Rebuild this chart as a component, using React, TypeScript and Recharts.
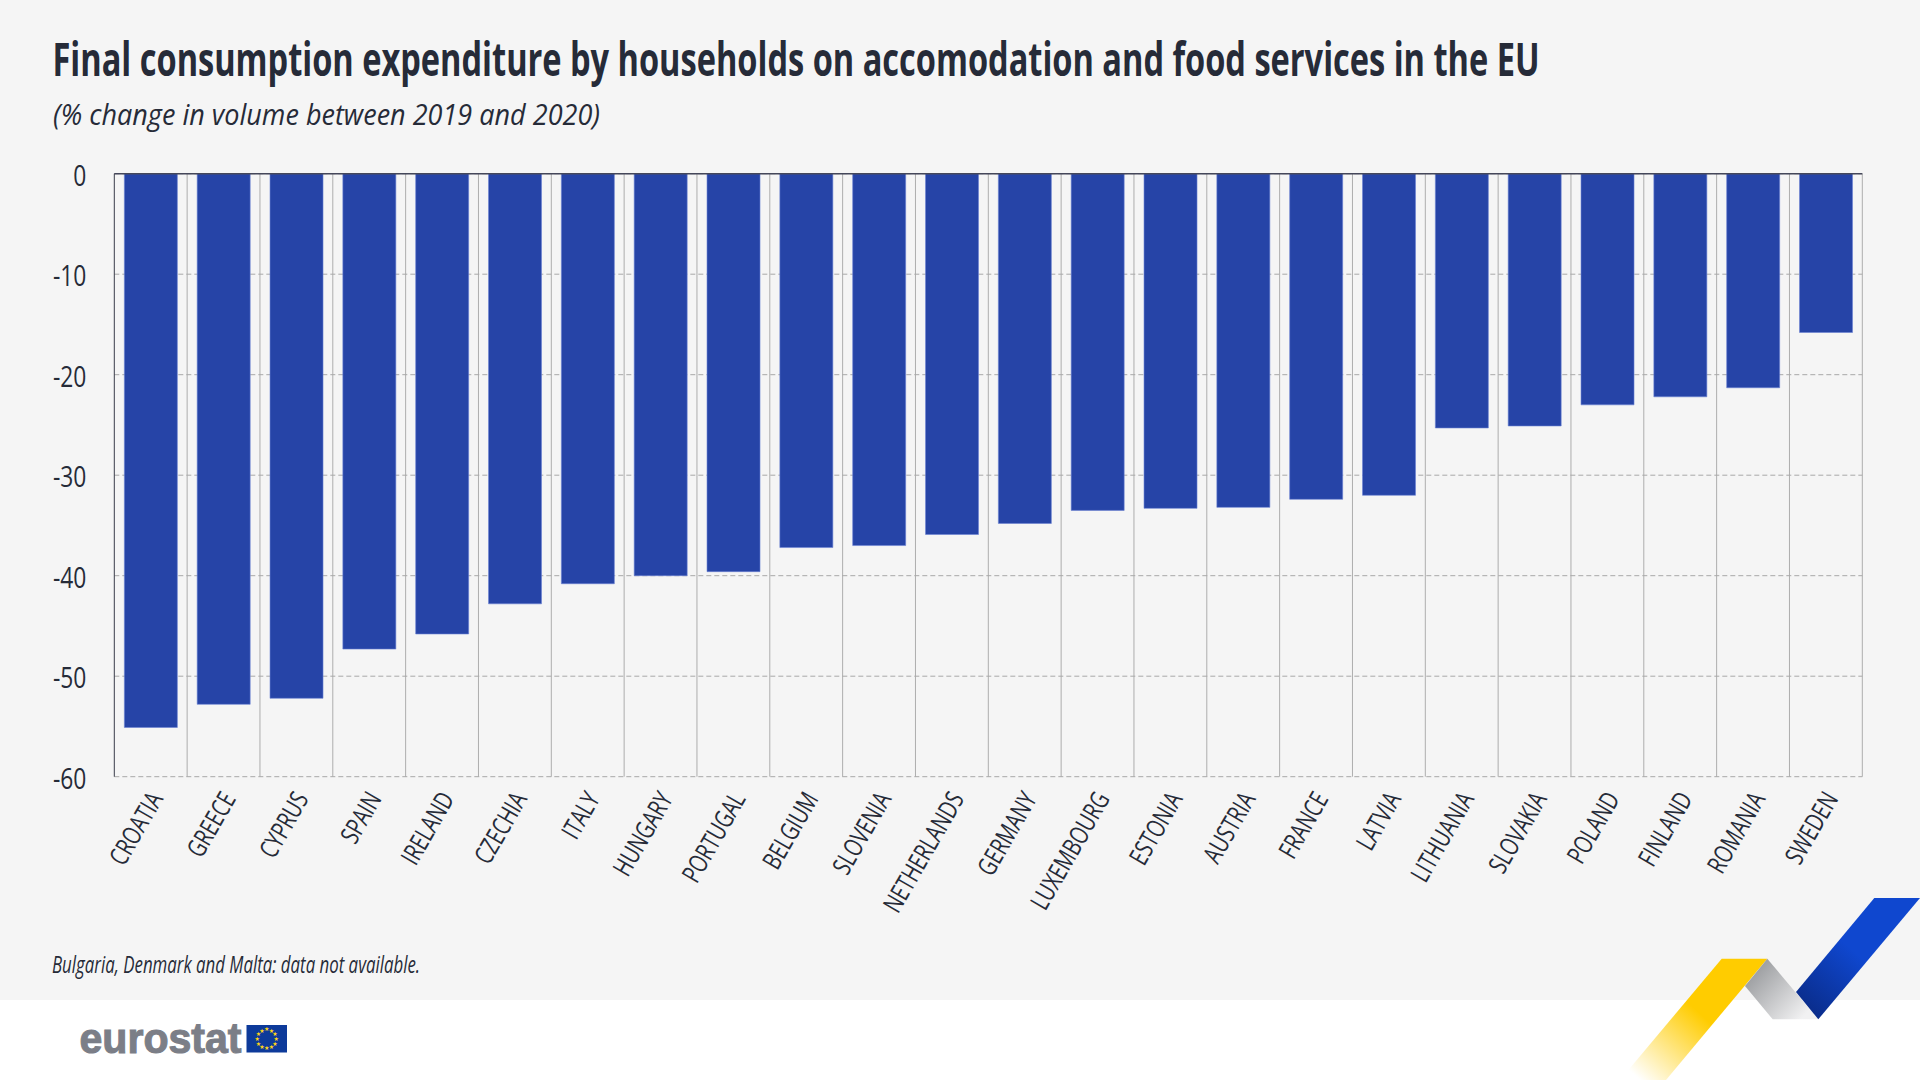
import React from 'react';
import { BarChart, Bar, XAxis, YAxis, CartesianGrid, ReferenceLine } from 'recharts';

const countries = ['CROATIA', 'GREECE', 'CYPRUS', 'SPAIN', 'IRELAND', 'CZECHIA', 'ITALY', 'HUNGARY', 'PORTUGAL', 'BELGIUM', 'SLOVENIA', 'NETHERLANDS', 'GERMANY', 'LUXEMBOURG', 'ESTONIA', 'AUSTRIA', 'FRANCE', 'LATVIA', 'LITHUANIA', 'SLOVAKIA', 'POLAND', 'FINLAND', 'ROMANIA', 'SWEDEN'];
const changes = [-55.1, -52.8, -52.2, -47.3, -45.8, -42.8, -40.8, -40.0, -39.6, -37.2, -37.0, -35.9, -34.8, -33.5, -33.3, -33.2, -32.4, -32.0, -25.3, -25.1, -23.0, -22.2, -21.3, -15.8];
const yTicks = [0, -10, -20, -30, -40, -50, -60];
const flagStars = [0, 30, 60, 90, 120, 150, 180, 210, 240, 270, 300, 330];

const chartData = countries.map((name, i) => ({ name, value: changes[i] }));

const FONT = '"Open Sans", sans-serif';
const INK = '#262b38';

function CountryTick({ x, y, payload }: any) {
  return (
    <text
      transform={`translate(${x + 13},${y - 8}) rotate(-60) scale(0.74,1)`}
      textAnchor="end"
      fontFamily={FONT}
      fontSize={26}
      fill={INK}
    >
      {payload.value}
    </text>
  );
}

function ValueTick({ x, y, payload }: any) {
  return (
    <text
      transform={`translate(${x + 5},${y + 12}) scale(0.76,1)`}
      textAnchor="end"
      fontFamily={FONT}
      fontSize={30}
      fill={INK}
    >
      {payload.value}
    </text>
  );
}

function Backdrop() {
  return (
    <svg width={1920} height={1080} style={{ position: 'absolute', left: 0, top: 0 }}>
      <defs>
        <linearGradient id="ribbonYellow" x1="1750" y1="960" x2="1640" y2="1080" gradientUnits="userSpaceOnUse">
          <stop offset="0.45" stopColor="#ffcc00" />
          <stop offset="1" stopColor="#ffffff" />
        </linearGradient>
        <linearGradient id="ribbonGrey" x1="1745" y1="970" x2="1800" y2="1020" gradientUnits="userSpaceOnUse">
          <stop offset="0" stopColor="#939598" />
          <stop offset="1" stopColor="#f1f1f2" />
        </linearGradient>
        <linearGradient id="ribbonBlue" x1="1890" y1="930" x2="1815" y2="1015" gradientUnits="userSpaceOnUse">
          <stop offset="0.35" stopColor="#0f47cf" />
          <stop offset="1" stopColor="#0a2d8c" />
        </linearGradient>
      </defs>
      <rect x={0} y={0} width={1920} height={1000} fill="#f5f5f5" />
      <polygon points="1721.7,958.7 1767.3,958.7 1666,1080 1620,1080" fill="url(#ribbonYellow)" />
      <polygon points="1767.3,958.7 1818.3,1019.3 1772.7,1019.3 1745,986" fill="url(#ribbonGrey)" />
      <polygon points="1874.3,898 1920,898 1818.3,1019.3 1796,992" fill="url(#ribbonBlue)" />
    </svg>
  );
}

function Captions() {
  return (
    <svg width={1920} height={1080} style={{ position: 'absolute', left: 0, top: 0, pointerEvents: 'none' }}>
      <text transform="translate(52.5,76) scale(1,1.21)" fontFamily={FONT} fontWeight={700} fontSize={38} fill={INK} textLength={1487} lengthAdjust="spacingAndGlyphs">
        Final consumption expenditure by households on accomodation and food services in the EU
      </text>
      <text x={53} y={125} fontFamily={FONT} fontStyle="italic" fontSize={30} fill={INK} textLength={547} lengthAdjust="spacingAndGlyphs">
        (% change in volume between 2019 and 2020)
      </text>
      <text x={52} y={973} fontFamily={FONT} fontStyle="italic" fontSize={24} fill={INK} textLength={368} lengthAdjust="spacingAndGlyphs">
        Bulgaria, Denmark and Malta: data not available.
      </text>
      <text x={79.5} y={1052.5} fontFamily='"Liberation Sans", sans-serif' fontWeight={700} fontSize={43} fill="#7b7e87" stroke="#7b7e87" strokeWidth={1.1} textLength={162} lengthAdjust="spacingAndGlyphs">
        eurostat
      </text>
      <rect x={246.5} y={1025} width={40.5} height={27.5} fill="#0d3a9a" />
      {flagStars.map(a => (
        <text
          key={a}
          x={266.75 + 9.5 * Math.sin((a * Math.PI) / 180)}
          y={1038.75 - 9.5 * Math.cos((a * Math.PI) / 180) + 2}
          textAnchor="middle"
          fontFamily='"DejaVu Sans", sans-serif'
          fontSize={6}
          fill="#ffd617"
        >
          ★
        </text>
      ))}
    </svg>
  );
}

export default function App() {
  return (
    <div style={{ position: 'absolute', left: 0, top: 0, width: 1920, height: 1080, background: '#ffffff', overflow: 'hidden' }}>
      <Backdrop />
      <div style={{ position: 'absolute', left: 0, top: 0 }}>
        <BarChart
          width={1920}
          height={1080}
          data={chartData}
          margin={{ top: 173.7, right: 57.7, bottom: 203.3, left: 54.3 }}
          barCategoryGap="13.8%"
        >
          <CartesianGrid
            stroke="#adadad"
            strokeWidth={1}
            horizontal={false}
            verticalCoordinatesGenerator={({ offset }: any) => countries.map((_, i) => offset.left + ((i + 1) * offset.width) / countries.length)}
          />
          <CartesianGrid stroke="#a8a8a8" strokeWidth={1} strokeDasharray="5 3" vertical={false} />
          <XAxis dataKey="name" height={100} interval={0} axisLine={false} tickLine={false} tickMargin={24} tick={<CountryTick />} />
          <YAxis width={60} domain={[-60, 0]} ticks={yTicks} axisLine={{ stroke: '#3a3d4a', strokeWidth: 1 }} tickLine={false} tickMargin={27} tick={<ValueTick />} />
          <Bar dataKey="value" fill="#2644a7" stroke="#6a82d4" strokeWidth={0.6} isAnimationActive={false} />
          <ReferenceLine y={0} stroke="#44475a" strokeWidth={1.5} />
        </BarChart>
      </div>
      <Captions />
    </div>
  );
}
